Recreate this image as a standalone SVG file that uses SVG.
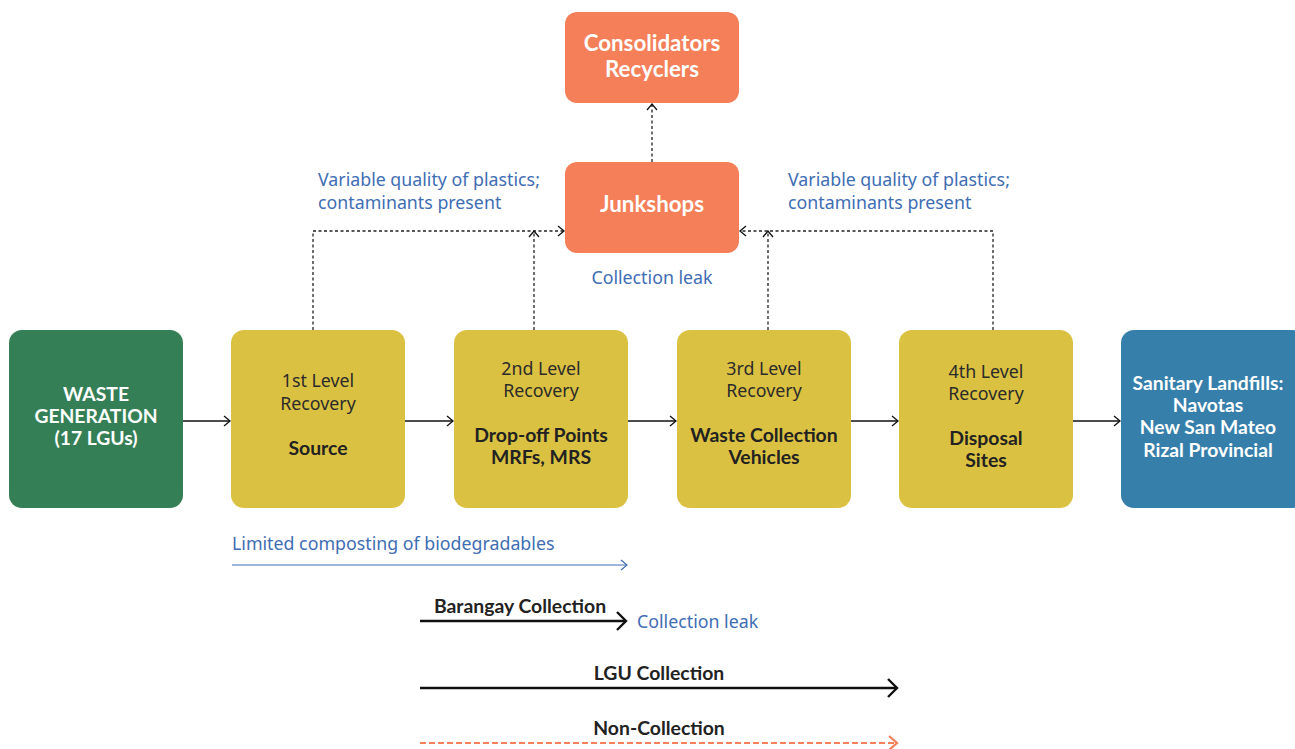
<svg xmlns="http://www.w3.org/2000/svg" width="1295" height="749" viewBox="0 0 1295 749">
<style>
text{font-family:Lato,"Noto Sans","Liberation Sans",sans-serif;}
.w{fill:#fff;font-weight:bold;font-size:19.3px;text-anchor:middle}
.wl{fill:#fff;font-weight:bold;font-size:22.3px;text-anchor:middle}
.t{fill:#2b2b2b;font-size:17.8px;text-anchor:middle;font-family:"Noto Sans",Lato,sans-serif}
.b{fill:#222;font-weight:bold;font-size:19.4px;text-anchor:middle}
.n{fill:#3e6db3;font-size:17.8px;font-family:"Noto Sans",Lato,sans-serif}
.solid{stroke:#111;stroke-width:1.3;fill:none}
.dash{stroke:#222;stroke-width:1.3;fill:none;stroke-dasharray:3 2.5}
</style>
<defs>
<marker id="ah" markerWidth="10" markerHeight="12" refX="8" refY="6" orient="auto" markerUnits="userSpaceOnUse"><path d="M2,1 L8,6 L2,11" fill="none" stroke="#111" stroke-width="1.3"/></marker>
<marker id="ahb" markerWidth="10" markerHeight="12" refX="8" refY="6" orient="auto" markerUnits="userSpaceOnUse"><path d="M2,1 L8,6 L2,11" fill="none" stroke="#3e6db3" stroke-width="1.2"/></marker>
<marker id="ahk" markerWidth="14" markerHeight="22" refX="11" refY="11" orient="auto" markerUnits="userSpaceOnUse"><path d="M2,2 L11,11 L2,20" fill="none" stroke="#111" stroke-width="2.4"/></marker>
<marker id="aho" markerWidth="14" markerHeight="20" refX="11" refY="10" orient="auto" markerUnits="userSpaceOnUse"><path d="M3,3 L11,10 L3,17" fill="none" stroke="#f47f58" stroke-width="2.2"/></marker>
</defs>

<g id="connectors">
<line class="solid" x1="183" y1="421" x2="230" y2="421" marker-end="url(#ah)"/>
<line class="solid" x1="405" y1="421" x2="453" y2="421" marker-end="url(#ah)"/>
<line class="solid" x1="628" y1="421" x2="676" y2="421" marker-end="url(#ah)"/>
<line class="solid" x1="851" y1="421" x2="898" y2="421" marker-end="url(#ah)"/>
<line class="solid" x1="1073" y1="421" x2="1120" y2="421" marker-end="url(#ah)"/>
<path class="dash" d="M313,330 V231 H564" marker-end="url(#ah)"/>
<path class="dash" d="M534,330 V231" marker-end="url(#ah)"/>
<path class="dash" d="M768,330 V231" marker-end="url(#ah)"/>
<path class="dash" d="M993,330 V231 H740" marker-end="url(#ah)"/>
<path class="dash" d="M652,162 V104" marker-end="url(#ah)"/>
</g>

<g id="waste"><rect x="9" y="330" width="174" height="178" rx="13" fill="#357f57"/>
<text class="w" x="96" y="401">WASTE</text><text class="w" x="96" y="423">GENERATION</text><text class="w" x="96" y="445">(17 LGUs)</text></g>

<g id="level1"><rect x="231" y="330" width="174" height="178" rx="13" fill="#dbc141"/>
<text class="t" x="318" y="387">1st Level</text><text class="t" x="318" y="410">Recovery</text><text class="b" x="318" y="455">Source</text></g>

<g id="level2"><rect x="454" y="330" width="174" height="178" rx="13" fill="#dbc141"/>
<text class="t" x="541" y="375">2nd Level</text><text class="t" x="541" y="397">Recovery</text><text class="b" x="541" y="442">Drop-off Points</text><text class="b" x="541" y="464">MRFs, MRS</text></g>

<g id="level3"><rect x="677" y="330" width="174" height="178" rx="13" fill="#dbc141"/>
<text class="t" x="764" y="375">3rd Level</text><text class="t" x="764" y="397">Recovery</text><text class="b" x="764" y="442">Waste Collection</text><text class="b" x="764" y="464">Vehicles</text></g>

<g id="level4"><rect x="899" y="330" width="174" height="178" rx="13" fill="#dbc141"/>
<text class="t" x="986" y="378">4th Level</text><text class="t" x="986" y="400">Recovery</text><text class="b" x="986" y="445">Disposal</text><text class="b" x="986" y="467">Sites</text></g>

<g id="landfills"><rect x="1121" y="330" width="185" height="178" rx="13" fill="#367fab"/>
<text class="w" x="1208" y="390">Sanitary Landfills:</text><text class="w" x="1208" y="412">Navotas</text><text class="w" x="1208" y="434">New San Mateo</text><text class="w" x="1208" y="457">Rizal Provincial</text></g>

<g id="junkshops"><rect x="565" y="162" width="174" height="91" rx="12" fill="#f47f58"/>
<text class="wl" x="652" y="212">Junkshops</text></g>

<g id="consolidators"><rect x="565" y="12" width="174" height="91" rx="12" fill="#f47f58"/>
<text class="wl" x="652" y="51">Consolidators</text><text class="wl" x="652" y="77">Recyclers</text></g>

<g id="notes">
<text class="n" x="318" y="186">Variable quality of plastics;</text>
<text class="n" x="318" y="209">contaminants present</text>
<text class="n" x="788" y="186">Variable quality of plastics;</text>
<text class="n" x="788" y="209">contaminants present</text>
<text class="n" x="652" y="284" text-anchor="middle">Collection leak</text>
</g>

<g id="legend">
<text class="n" x="232" y="550">Limited composting of biodegradables</text>
<line x1="232" y1="565" x2="627" y2="565" stroke="#3e6db3" stroke-width="1.2" marker-end="url(#ahb)"/>
<text class="b" x="520" y="613">Barangay Collection</text>
<line x1="420" y1="621" x2="626" y2="621" stroke="#111" stroke-width="2.4" marker-end="url(#ahk)"/>
<text class="n" x="637" y="628">Collection leak</text>
<text class="b" x="659" y="680">LGU Collection</text>
<line x1="420" y1="688" x2="897" y2="688" stroke="#111" stroke-width="2.4" marker-end="url(#ahk)"/>
<text class="b" x="659" y="735">Non-Collection</text>
<line x1="420" y1="743" x2="897" y2="743" stroke="#f47f58" stroke-width="2.2" stroke-dasharray="6 3" marker-end="url(#aho)"/>
</g>
</svg>
